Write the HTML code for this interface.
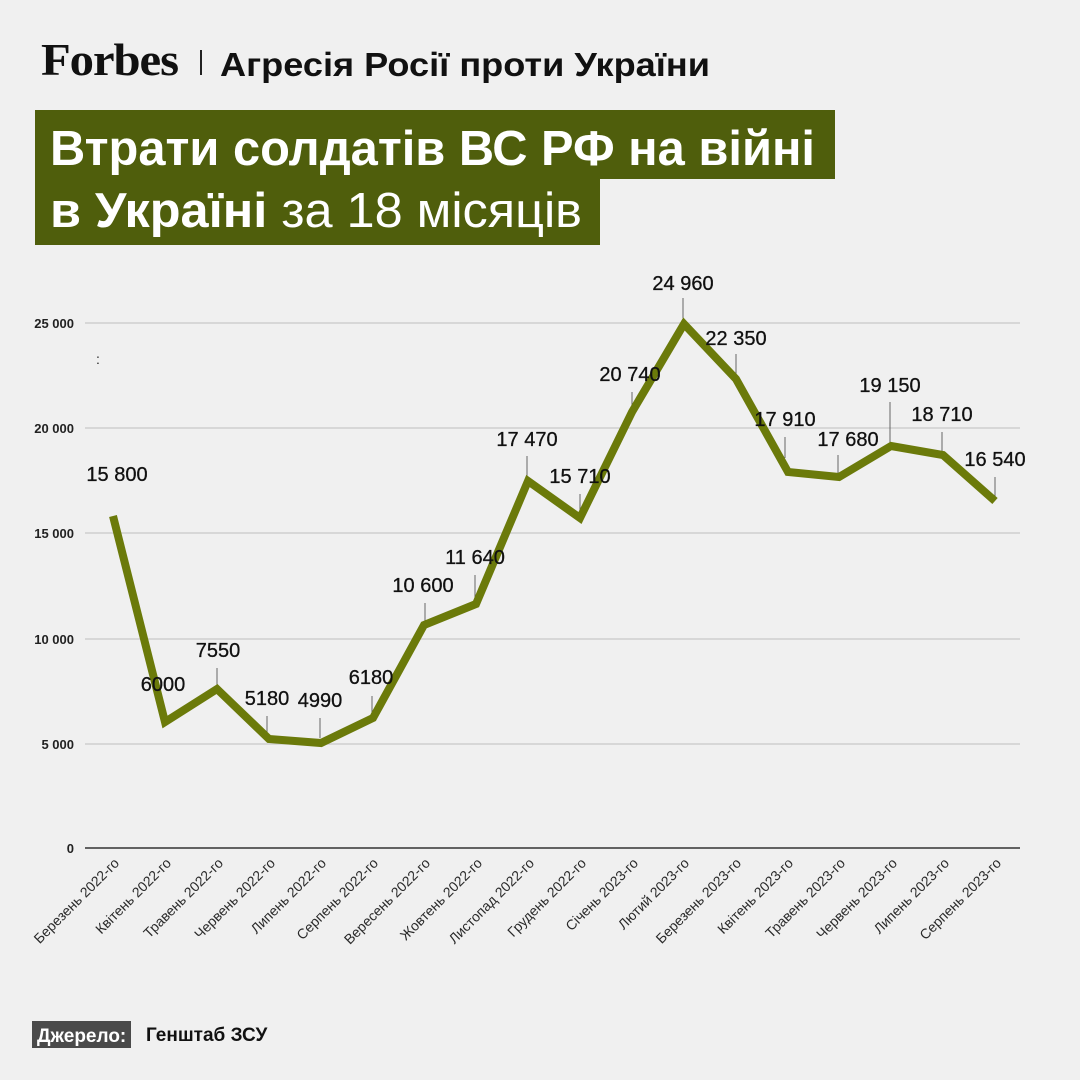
<!DOCTYPE html><html><head><meta charset="utf-8"><style>
body{margin:0;background:#f0f0f0;width:1080px;height:1080px;overflow:hidden;font-family:"Liberation Sans",sans-serif}
</style></head><body>
<svg width="1080" height="1080" xmlns="http://www.w3.org/2000/svg" style="position:absolute;left:0;top:0">
<rect width="1080" height="1080" fill="#f0f0f0"/>
<text x="41" y="75" font-family="Liberation Serif,serif" font-weight="bold" font-size="46" letter-spacing="-1" textLength="137" lengthAdjust="spacingAndGlyphs" fill="#111">Forbes</text>
<rect x="200" y="50" width="2" height="25" fill="#222"/>
<text x="220" y="76" font-weight="bold" font-size="33" textLength="490" lengthAdjust="spacingAndGlyphs" fill="#111">Агресія Росії проти України</text>
<rect x="35" y="110" width="800" height="69" fill="#4f5e0c"/>
<rect x="35" y="178" width="565" height="67" fill="#4f5e0c"/>
<text x="50" y="165" font-weight="bold" font-size="49" textLength="765" lengthAdjust="spacingAndGlyphs" fill="#fff">Втрати солдатів ВС РФ на війні</text>
<text x="50" y="227" font-size="49" textLength="532" lengthAdjust="spacingAndGlyphs" fill="#fff"><tspan font-weight="bold">в Україні</tspan> за 18 місяців</text>
<g stroke="#c8c8c8" stroke-width="1.2">
<line x1="85" x2="1020" y1="323" y2="323"/><line x1="85" x2="1020" y1="428" y2="428"/>
<line x1="85" x2="1020" y1="533" y2="533"/><line x1="85" x2="1020" y1="639" y2="639"/>
<line x1="85" x2="1020" y1="744" y2="744"/></g>
<line x1="85" x2="1020" y1="848" y2="848" stroke="#333" stroke-width="1.5"/>
<g font-size="13" font-weight="bold" fill="#222" text-anchor="end">
<text x="74" y="328">25 000</text><text x="74" y="433">20 000</text><text x="74" y="538">15 000</text>
<text x="74" y="644">10 000</text><text x="74" y="749">5 000</text><text x="74" y="853">0</text></g>
<text x="96" y="364" font-size="14" fill="#222">:</text>
<g stroke="#666" stroke-width="1">
<line x1="163" y1="705" x2="163" y2="718"/><line x1="217" y1="668" x2="217" y2="686"/>
<line x1="267" y1="716" x2="267" y2="734"/><line x1="320" y1="718" x2="320" y2="738"/>
<line x1="372" y1="696" x2="372" y2="714"/><line x1="425" y1="603" x2="425" y2="624"/>
<line x1="475" y1="575" x2="475" y2="598"/><line x1="527" y1="456" x2="527" y2="478"/>
<line x1="580" y1="494" x2="580" y2="515"/><line x1="632" y1="392" x2="632" y2="410"/>
<line x1="683" y1="298" x2="683" y2="318"/><line x1="736" y1="354" x2="736" y2="374"/>
<line x1="785" y1="437" x2="785" y2="458"/><line x1="838" y1="455" x2="838" y2="474"/>
<line x1="890" y1="402" x2="890" y2="442"/><line x1="942" y1="432" x2="942" y2="452"/>
<line x1="995" y1="477" x2="995" y2="497"/></g>
<polyline fill="none" stroke="#6b7a0a" stroke-width="8" stroke-linejoin="miter" points="113,516 165,722 217,689 269,739 321,743 373,718 424,625 476,604 528,481 580,518 632,412 684,324 736,379 788,472 839,477 891,446 943,455 995,501"/>
<g font-size="20" fill="#111" text-anchor="middle" dominant-baseline="central" stroke="#111" stroke-width="0.3">
<text x="117" y="475">15 800</text><text x="163" y="685">6000</text><text x="218" y="651">7550</text>
<text x="267" y="699">5180</text><text x="320" y="701">4990</text><text x="371" y="678">6180</text>
<text x="423" y="586">10 600</text><text x="475" y="558">11 640</text><text x="527" y="440">17 470</text>
<text x="580" y="477">15 710</text><text x="630" y="375">20 740</text><text x="683" y="284">24 960</text>
<text x="736" y="339">22 350</text><text x="785" y="420">17 910</text><text x="848" y="440">17 680</text>
<text x="890" y="386">19 150</text><text x="942" y="415">18 710</text><text x="995" y="460">16 540</text></g>
<g font-size="14" fill="#2a2a2a" text-anchor="end">
<text transform="translate(120,864) rotate(-45)">Березень 2022-го</text>
<text transform="translate(172,864) rotate(-45)">Квітень 2022-го</text>
<text transform="translate(224,864) rotate(-45)">Травень 2022-го</text>
<text transform="translate(276,864) rotate(-45)">Червень 2022-го</text>
<text transform="translate(327,864) rotate(-45)">Липень 2022-го</text>
<text transform="translate(379,864) rotate(-45)">Серпень  2022-го</text>
<text transform="translate(431,864) rotate(-45)">Вересень 2022-го</text>
<text transform="translate(483,864) rotate(-45)">Жовтень 2022-го</text>
<text transform="translate(535,864) rotate(-45)">Листопад 2022-го</text>
<text transform="translate(587,864) rotate(-45)">Грудень 2022-го</text>
<text transform="translate(639,864) rotate(-45)">Січень 2023-го</text>
<text transform="translate(690,864) rotate(-45)">Лютий 2023-го</text>
<text transform="translate(742,864) rotate(-45)">Березень 2023-го</text>
<text transform="translate(794,864) rotate(-45)">Квітень 2023-го</text>
<text transform="translate(846,864) rotate(-45)">Травень 2023-го</text>
<text transform="translate(898,864) rotate(-45)">Червень 2023-го</text>
<text transform="translate(950,864) rotate(-45)">Липень 2023-го</text>
<text transform="translate(1002,864) rotate(-45)">Серпень  2023-го</text></g>
<rect x="32" y="1021" width="99" height="27" fill="#4a4a4a"/>
<text x="37" y="1042" font-size="19" font-weight="bold" fill="#fff">Джерело:</text>
<text x="146" y="1041" font-size="19" font-weight="bold" fill="#111">Генштаб ЗСУ</text>
</svg></body></html>
